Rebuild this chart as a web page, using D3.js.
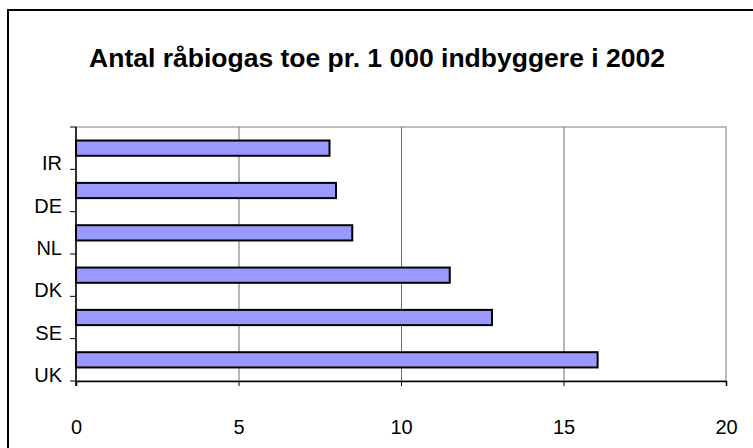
<!DOCTYPE html>
<html>
<head>
<meta charset="utf-8">
<script src="https://cdn.jsdelivr.net/npm/d3@7"></script>
<style>
    body { margin: 0; background: #fff; }
    svg { display: block; font-family: "Liberation Sans", Arial, sans-serif; }
</style>
</head>
<body>
<svg id="chart" width="753" height="448"></svg>
<script>
    //  data
    const countries = ["IR", "DE", "NL", "DK", "SE", "UK"];
    const toePer1000 = [7.8, 8.0, 8.5, 11.5, 12.8, 16.05];
    const xTicks = [0, 5, 10, 15, 20];
    const titleText = "Antal råbiogas toe pr. 1 000 indbyggere i 2002";

    const svg = d3.select("#chart");

    const plot = { left: 76, right: 726, top: 127, bottom: 381 };

    //  outer frame (runs off the right and bottom edge)
    svg.append("rect").attr("x", 8).attr("y", 10)
        .attr("width", 760).attr("height", 460)
        .attr("fill", "white").attr("stroke", "black").attr("stroke-width", 2);

    svg.append("text")
        .attr("x", 377).attr("y", 67)
        .attr("text-anchor", "middle")
        .style("font-size", "26.5px").style("font-weight", "bold")
        .text(titleText);

    const x = d3.scaleLinear().domain([0, 20]).range([plot.left, plot.right]);
    const y = d3.scaleBand().domain(countries)
        .range([plot.top, plot.bottom])
        .paddingInner(0.64).paddingOuter(0.32);
    const rows = countries.map((c, i) => ({ name: c, value: toePer1000[i] }));

    //  plot area border
    svg.append("rect")
        .attr("x", plot.left).attr("y", plot.top)
        .attr("width", plot.right - plot.left).attr("height", plot.bottom - plot.top)
        .attr("fill", "none").attr("stroke", "#a6a6a6").attr("stroke-width", 1.5);

    //  vertical gridlines
    svg.append("g").selectAll("line")
        .data(xTicks.filter(t => t > 0 && t < 20))
        .join("line")
        .attr("x1", d => x(d) + 0.5).attr("x2", d => x(d) + 0.5)
        .attr("y1", plot.top).attr("y2", plot.bottom)
        .attr("stroke", "#6e6e6e").attr("stroke-width", 1);

    //  bars
    svg.append("g").selectAll("rect")
        .data(rows)
        .join("rect")
        .attr("x", x(0))
        .attr("y", d => y(d.name))
        .attr("width", d => x(d.value) - x(0))
        .attr("height", y.bandwidth())
        .attr("fill", "#9999ff")
        .attr("stroke", "black").attr("stroke-width", 2);

    //  x axis
    const xAxis = svg.append("g")
        .attr("transform", `translate(0,${plot.bottom})`)
        .call(d3.axisBottom(x).tickValues(xTicks).tickSize(5).tickPadding(34));
    xAxis.select(".domain").attr("stroke", "black").attr("stroke-width", 1.5);
    xAxis.selectAll(".tick line").attr("stroke", "black");
    xAxis.selectAll("text").style("font-size", "20px").attr("fill", "black");

    //  y axis: ticks sit on band edges, labels just above each lower edge
    const step = y.step();
    const edges = d3.range(countries.length + 1).map(i => plot.top + i * step);
    svg.append("line")
        .attr("x1", plot.left).attr("x2", plot.left)
        .attr("y1", plot.top).attr("y2", plot.bottom + 5)
        .attr("stroke", "black").attr("stroke-width", 1.5);
    svg.append("g").selectAll("line")
        .data(edges)
        .join("line")
        .attr("x1", plot.left - 6).attr("x2", plot.left)
        .attr("y1", d => d).attr("y2", d => d)
        .attr("stroke", "black");
    svg.append("g").selectAll("text")
        .data(countries)
        .join("text")
        .attr("x", 62)
        .attr("y", d => y(d) - y.step() * y.paddingOuter() + step + 1)
        .attr("text-anchor", "end")
        .style("font-size", "20px")
        .text(d => d);
</script>
</body>
</html>
